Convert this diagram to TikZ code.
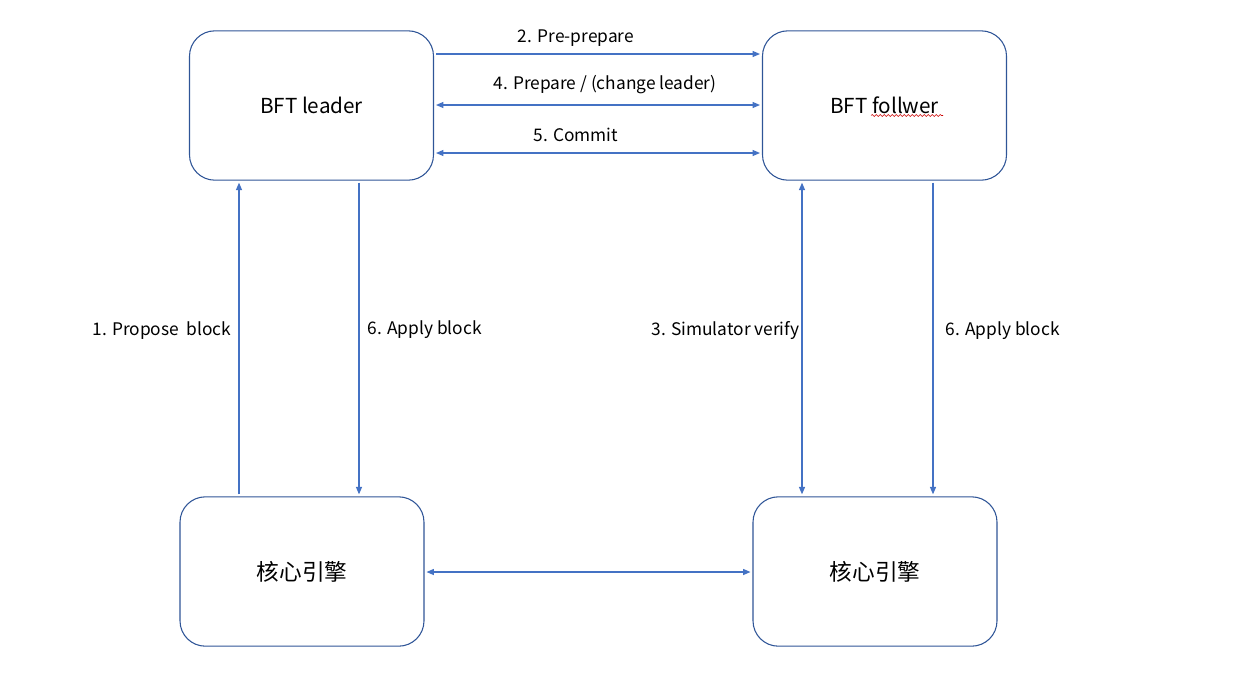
\documentclass[tikz,border=0pt]{standalone}
\usepackage{fontspec}
\setmainfont{Noto Sans CJK SC}
\usetikzlibrary{arrows.meta,decorations.pathmorphing}
\definecolor{boxc}{HTML}{2F5597}
\definecolor{linec}{HTML}{4472C4}
\begin{document}
\begin{tikzpicture}[x=0.75pt,y=-0.75pt,
  box/.style={draw=boxc,line width=0.8pt,rounded corners=19pt,minimum width=183pt,minimum height=112pt,inner sep=0pt,font=\fontsize{15.5}{18}\selectfont},
  cjkbox/.style={box,font=\fontsize{17}{20}\selectfont},
  arr/.style={draw=linec,line width=0.8pt,-{Triangle[length=5.5pt,width=4.5pt]},shorten >=1.5pt,shorten <=1.5pt},
  darr/.style={arr,{Triangle[length=5.5pt,width=4.5pt]}-{Triangle[length=5.5pt,width=4.5pt]}},
  lbl/.style={font=\fontsize{13}{15}\selectfont,inner sep=1pt}]
\path[use as bounding box] (0,0) rectangle (1253,697);
\node[box] (lead) at (311.5,105.5) {BFT leader};
\node[box] (foll) at (884.5,105.5) {BFT follwer};
\node[cjkbox] (core1) at (302,571.5) {核心引擎};
\node[cjkbox] (core2) at (875,571.5) {核心引擎};
% spell-check squiggle
\draw[red!80!black,line width=0.4pt,decorate,decoration={snake,segment length=3pt,amplitude=0.7pt}] ([shift={(-13.5,10)}]foll.center) -- ([shift={(58.5,10)}]foll.center);
% top arrows
\draw[arr] (lead.east |- 0,54) -- (foll.west |- 0,54);
\node[lbl] (l2) at (576,38) {2. Pre-prepare};
\draw[darr] (lead.east |- 0,105) -- (foll.west |- 0,105);
\node[lbl] (l4) at (605,85) {4. Prepare / (change leader)};
\draw[darr] (lead.east |- 0,153) -- (foll.west |- 0,153);
\node[lbl] (l5) at (576,135) {5. Commit};
% vertical arrows
\draw[arr] (core1.north -| 239,0) -- (lead.south -| 239,0);
\node[lbl,anchor=east] (l1) at (233,331) {1. Propose\ \ block};
\draw[arr] (lead.south -| 359,0) -- (core1.north -| 359,0);
\node[lbl,anchor=west] (l6a) at (366,330) {6. Apply block};
\draw[darr] (foll.south -| 802,0) -- (core2.north -| 802,0);
\node[lbl,anchor=east] (l3) at (801,331) {3. Simulator verify};
\draw[arr] (foll.south -| 933,0) -- (core2.north -| 933,0);
\node[lbl,anchor=west] (l6b) at (944,331) {6. Apply block};
% bottom
\draw[darr] (core1.east |- 0,572) -- (core2.west |- 0,572);
\end{tikzpicture}
\end{document}
